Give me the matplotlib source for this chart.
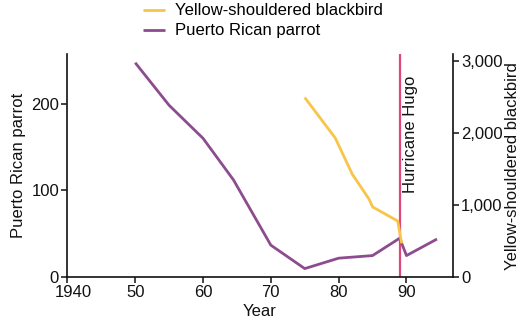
import matplotlib
matplotlib.use("Agg")
import matplotlib.pyplot as plt
import matplotlib.transforms as mtransforms
from matplotlib import font_manager

names = {f.name for f in font_manager.fontManager.ttflist}
fam = "Liberation Sans Narrow" if "Liberation Sans Narrow" in names else "Liberation Sans"
plt.rcParams['font.family'] = [fam, 'DejaVu Sans']

# Data
parrot_years = [1950, 1955, 1960, 1964.5, 1970, 1975, 1980, 1985, 1989, 1990, 1994.5]
parrot_counts = [247, 198, 160, 112, 37, 10, 22, 25, 45, 25, 44]
blackbird_years = [1975, 1979.5, 1982, 1984.5, 1985, 1988.7, 1989.3]
blackbird_counts = [2490, 1930, 1430, 1080, 975, 780, 470]
hurricane_year = 1989
x_ticks = [1940, 1950, 1960, 1970, 1980, 1990]
x_tick_labels = ["1940", "50", "60", "70", "80", "90"]
left_ticks = [0, 100, 200]
right_ticks = [0, 1000, 2000, 3000]
right_tick_labels = ["0", "1,000", "2,000", "3,000"]

yellow = "#F7C548"
purple = "#8C4C8E"
pink = "#E0457B"
fs = 12

fig = plt.figure(figsize=(5.21, 3.25), dpi=100)
ax = fig.add_axes([0.128, 0.1468, 0.742, 0.687])
ax2 = ax.twinx()

lp, = ax.plot(parrot_years, parrot_counts, color=purple, lw=2.0, solid_capstyle='butt', zorder=3)
ly, = ax2.plot(blackbird_years, blackbird_counts, color=yellow, lw=2.0, solid_capstyle='butt', zorder=3)
ax.axvline(hurricane_year, color=pink, lw=1.6, zorder=2)
ax.text(hurricane_year + 0.45, 164, "Hurricane Hugo", rotation=90, ha='left', va='center',
        fontsize=fs, color='#111111')

ax.set_xlim(1939.9, 1996.9)
ax.set_ylim(0, 257)
ax2.set_ylim(0, 3093)
ax.set_xticks(x_ticks)
ax.set_xticklabels(x_tick_labels)
ax.set_yticks(left_ticks)
ax2.set_yticks(right_ticks)
ax2.set_yticklabels(right_tick_labels)

for a in (ax, ax2):
    a.spines['top'].set_visible(False)
    for s in a.spines.values():
        s.set_linewidth(1.2)
        s.set_color('#111111')
    a.tick_params(labelsize=fs, length=4, width=1.1, colors='#111111', pad=1.5)
ax.spines['right'].set_visible(False)
ax2.spines['left'].set_visible(False)
ax2.spines['bottom'].set_visible(False)

# shift the "1940" label slightly right as in the reference
lbl = ax.get_xticklabels()[0]
lbl.set_transform(lbl.get_transform() + mtransforms.ScaledTranslation(6/100, 0, fig.dpi_scale_trans))

ax.set_xlabel("Year", fontsize=fs, labelpad=3, color='#111111')
ax.set_ylabel("Puerto Rican parrot", fontsize=fs, labelpad=4, color='#111111')
ax2.set_ylabel("Yellow-shouldered blackbird", fontsize=fs, rotation=90, labelpad=2, color='#111111')

fig.legend([ly, lp], ["Yellow-shouldered blackbird", "Puerto Rican parrot"],
           loc='upper left', bbox_to_anchor=(0.262, 1.01), frameon=False,
           fontsize=fs, handlelength=1.3, handletextpad=0.6, labelspacing=0.3,
           borderaxespad=0)

fig.savefig("out.png", dpi=100)
